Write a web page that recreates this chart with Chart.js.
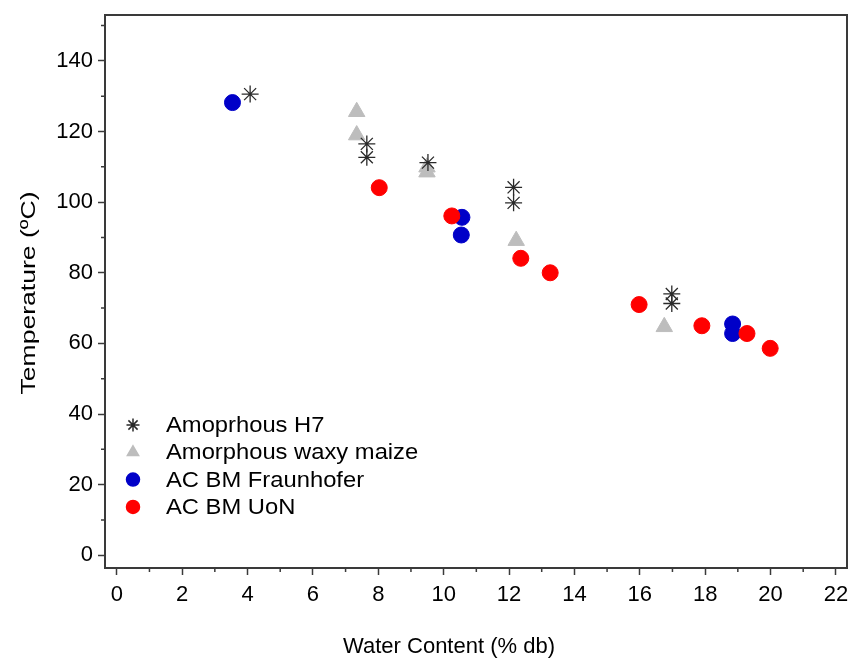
<!DOCTYPE html>
<html>
<head>
<meta charset="utf-8">
<script src="https://cdn.jsdelivr.net/npm/chart.js@4/dist/chart.umd.min.js"></script>
<style>
  html, body { margin:0; padding:0; background:#fff; }
  #wrap { width:851px; height:664px; position:relative; }
</style>
</head>
<body>
<div id="wrap"><canvas id="tgChart"></canvas></div>
<script>
/* ── Glass transition vs water content ─────────────────── */
const h7X    = [4.08, 7.65, 7.65, 9.52, 12.14, 12.14, 16.98, 16.98];
const h7Y    = [130.6, 116.5, 112.7, 111.2, 104.2, 99.8, 74.0, 71.3];
const waxyX  = [7.34, 7.34, 9.49, 9.49, 12.22, 16.75];
const waxyY  = [125.6, 119.0, 109.9, 108.5, 89.1, 64.7];
const fraunX = [3.54, 10.56, 10.54, 18.84, 18.84];
const fraunY = [128.2, 95.7, 90.7, 65.5, 62.8];
const uonX   = [8.03, 10.25, 12.36, 13.26, 15.98, 17.9, 19.28, 19.99];
const uonY   = [104.1, 96.1, 84.1, 80.0, 71.0, 65.0, 62.8, 58.6];

const xTicks      = [0, 2, 4, 6, 8, 10, 12, 14, 16, 18, 20, 22];
const xMinorTicks = [1, 3, 5, 7, 9, 11, 13, 15, 17, 19, 21];
const yTicks      = [0, 20, 40, 60, 80, 100, 120, 140];
const yMinorTicks = [10, 30, 50, 70, 90, 110, 130, 150];

const seriesNames = ["Amoprhous H7", "Amorphous waxy maize", "AC BM Fraunhofer", "AC BM UoN"];
const xTitle = "Water Content (% db)";
const yTitle = "Temperature (ºC)";

const FONT = "Arial, 'Liberation Sans', sans-serif";
const axisColor = "#3a3a3a";

const pts = (xs, ys) => xs.map((x, i) => ({ x, y: ys[i] }));

// stretched text helper (the source figure's lettering is a bit wide)
function wideText(ctx, text, x, y, sx) {
  ctx.save();
  ctx.translate(x, y);
  ctx.scale(sx, 1);
  ctx.fillText(text, 0, 0);
  ctx.restore();
}

// frame + minor ticks + x labels + titles + in-plot legend
const framePlugin = {
  id: "frame",
  afterDraw(c) {
    const { ctx, chartArea: a, scales: { x, y } } = c;
    ctx.save();
    ctx.strokeStyle = axisColor;
    ctx.lineWidth = 2;
    ctx.strokeRect(a.left, a.top, a.right - a.left, a.bottom - a.top);
    ctx.lineWidth = 1.5;
    ctx.beginPath();
    xMinorTicks.forEach(v => { const px = x.getPixelForValue(v); ctx.moveTo(px, a.bottom); ctx.lineTo(px, a.bottom + 4); });
    yMinorTicks.forEach(v => { const py = y.getPixelForValue(v); ctx.moveTo(a.left, py); ctx.lineTo(a.left - 4, py); });
    ctx.stroke();

    ctx.fillStyle = "#000";
    ctx.textBaseline = "middle";
    ctx.textAlign = "center";
    ctx.font = "22px " + FONT;
    // x tick labels
    xTicks.forEach(v => ctx.fillText(String(v), x.getPixelForValue(v), a.bottom + 27));

    // axis titles
    wideText(ctx, xTitle, 449, 647, 1.0);
    ctx.save();
    ctx.translate(29, 293);
    ctx.rotate(-Math.PI / 2);
    ctx.font = "21px " + FONT;
    const w = ctx.measureText(yTitle).width;
    wideText(ctx, yTitle, 0, 0, 203 / w);
    ctx.restore();

    // legend
    const lx = a.left + 28, ly0 = a.top + 410, step = 27.3;
    ctx.font = "22px " + FONT;
    ctx.textAlign = "left";
    c.data.datasets.forEach((ds, i) => {
      const yy = ly0 + i * step;
      ctx.fillStyle = ds.backgroundColor;
      ctx.strokeStyle = ds.borderColor;
      Chart.helpers.drawPoint(ctx, { pointStyle: ds.pointStyle, radius: ds.legendRadius, borderWidth: ds.borderWidth, rotation: 0 }, lx, yy);
      ctx.fillStyle = "#000";
      wideText(ctx, seriesNames[i], lx + 33, yy + 1, 1.08);
    });
    ctx.restore();
  }
};

new Chart(document.getElementById("tgChart"), {
  type: "scatter",
  data: {
    datasets: [
      { label: seriesNames[0], data: pts(h7X, h7Y),       pointStyle: "star",     radius: 8.5, legendRadius: 6.5, backgroundColor: "#2a2a2a", borderColor: "#2a2a2a", borderWidth: 1.3, order: 3 },
      { label: seriesNames[1], data: pts(waxyX, waxyY),   pointStyle: "triangle", radius: 9.5, legendRadius: 6.5, backgroundColor: "#bdbdbd", borderColor: "#bdbdbd", borderWidth: 1, order: 4 },
      { label: seriesNames[2], data: pts(fraunX, fraunY), pointStyle: "circle",   radius: 8,   legendRadius: 6.5, backgroundColor: "#0000c8", borderColor: "#0000c8", borderWidth: 1, order: 2 },
      { label: seriesNames[3], data: pts(uonX, uonY),     pointStyle: "circle",   radius: 8,   legendRadius: 6.5, backgroundColor: "#ff0000", borderColor: "#ff0000", borderWidth: 1, order: 1 }
    ]
  },
  options: {
    responsive: true, maintainAspectRatio: false, animation: false,
    layout: { autoPadding: false, padding: { top: 15, right: 4, left: 0, bottom: 0 } },
    plugins: { legend: { display: false }, tooltip: { enabled: false } },
    scales: {
      x: {
        type: "linear", min: -0.36, max: 22.34,
        afterFit: s => { s.height = 96; s.paddingLeft = 0; s.paddingRight = 0; },
        afterBuildTicks: s => { s.ticks = xTicks.map(v => ({ value: v })); },
        border: { display: true, color: axisColor, width: 2 },
        grid: { drawOnChartArea: false, drawTicks: true, tickLength: 7, tickWidth: 1.5, tickColor: axisColor },
        ticks: { display: false },
        title: { display: false }
      },
      y: {
        type: "linear", min: -3.6, max: 153,
        afterFit: s => { s.width = 105; s.paddingTop = 0; s.paddingBottom = 0; },
        afterBuildTicks: s => { s.ticks = yTicks.map(v => ({ value: v })); },
        border: { display: true, color: axisColor, width: 2 },
        grid: { drawOnChartArea: false, drawTicks: true, tickLength: 7, tickWidth: 1.5, tickColor: axisColor },
        ticks: { color: "#000", padding: 5, font: { family: FONT, size: 22 } },
        title: { display: false }
      }
    }
  },
  plugins: [framePlugin]
});
</script>
</body>
</html>
